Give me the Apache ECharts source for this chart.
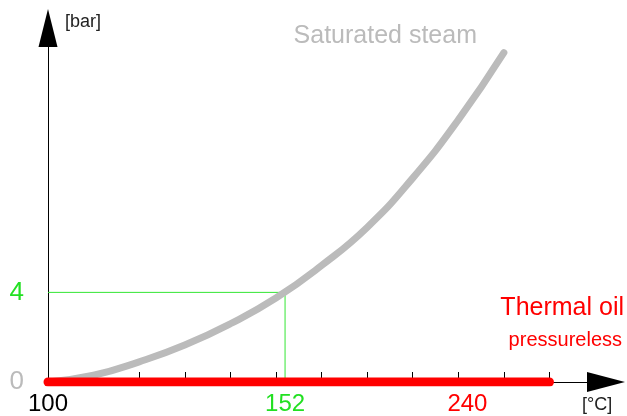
<!DOCTYPE html>
<html>
<head>
<meta charset="utf-8">
<script src="https://cdn.jsdelivr.net/npm/echarts@6/dist/echarts.min.js"></script>
<style>
    html, body { margin: 0; padding: 0; background: #fff; }
    #chart { width: 627px; height: 416px; }
</style>
</head>
<body>
<div id="chart"></div>
<script>
(() => {
    'use strict'

    // saturated steam, gauge pressure [bar] over temperature [°C]
    const steamTemp = [100, 110, 120, 130, 140, 150, 160, 170, 180, 190, 200]
    const steamBar = [0, 0.3, 0.9, 1.65, 2.6, 3.75, 5.2, 6.9, 9.1, 11.7, 14.7]

    // thermal oil stays pressureless
    const oilTemp = [100, 210]
    const oilBar = [0, 0]

    // read-off guide at 4 bar
    const guideTemp = [100, 152, 152]
    const guideBar = [4, 4, 0]

    const xTicks = [100, 110, 120, 130, 140, 150, 160, 170, 180, 190, 200, 210]
    const xLabels = [
        {value: 100, text: '100', color: '#000'},
        {value: 152, text: '152', color: '#22e022'},
        {value: 192, text: '240', color: '#ff0000'}
    ]
    const yLabels = [
        {value: 0, text: '0', color: '#bbbbbb'},
        {value: 4, text: '4', color: '#22e022'}
    ]

    const font = '"Liberation Sans", Arial, sans-serif'
    const pick = (list, v) => list.find(l => l.value === v) || {text: '', color: '#000'}
    const pairs = (xs, ys) => xs.map((x, i) => [x, ys[i]])

    const chart = echarts.init(document.getElementById('chart'), null, {renderer: 'canvas'})

    chart.setOption({
        animation: false,
        backgroundColor: '#fff',
        grid: {left: 48, right: 21, top: 28, bottom: 33},
        xAxis: {
            type: 'value',
            min: 100,
            max: 222.4,
            name: '[°C]',
            nameLocation: 'end',
            nameGap: -24,
            nameTextStyle: {fontFamily: font, fontSize: 18, color: '#222', align: 'left', verticalAlign: 'top', padding: [14, 0, 0, 0]},
            axisLine: {
                lineStyle: {color: '#000', width: 1},
                symbol: ['none', 'triangle'],
                symbolSize: [20, 38]
            },
            axisTick: {
                show: true,
                inside: true,
                length: 10,
                customValues: xTicks,
                lineStyle: {color: '#000', width: 1}
            },
            axisLabel: {
                customValues: xLabels.map(l => l.value),
                margin: 10,
                fontFamily: font,
                fontSize: 24,
                formatter: v => pick(xLabels, v).text,
                color: v => pick(xLabels, Number(v)).color
            },
            splitLine: {show: false}
        },
        yAxis: {
            type: 'value',
            min: 0,
            max: 15.8,
            name: '[bar]',
            nameLocation: 'end',
            nameGap: -3,
            nameTextStyle: {fontFamily: font, fontSize: 18, color: '#222', align: 'left', padding: [0, 0, 0, 17]},
            axisLine: {
                show: true,
                lineStyle: {color: '#000', width: 1},
                symbol: ['none', 'triangle'],
                symbolSize: [19, 38]
            },
            axisTick: {show: false},
            axisLabel: {
                customValues: yLabels.map(l => l.value),
                margin: 24,
                fontFamily: font,
                fontSize: 26,
                formatter: v => pick(yLabels, v).text,
                color: v => pick(yLabels, Number(v)).color
            },
            splitLine: {show: false}
        },
        graphic: [
            {
                type: 'text',
                right: 150,
                top: 24,
                style: {text: 'Saturated steam', font: '25px ' + font, fill: '#bbbbbb'}
            },
            {
                type: 'text',
                right: 3,
                top: 296,
                style: {text: 'Thermal oil', font: '25px ' + font, fill: '#ff0000'}
            },
            {
                type: 'text',
                right: 5,
                top: 330,
                style: {text: 'pressureless', font: '20px ' + font, fill: '#ff0000'}
            }
        ],
        series: [
            {
                name: 'guide',
                type: 'line',
                data: pairs(guideTemp, guideBar),
                showSymbol: false,
                lineStyle: {color: '#33e633', width: 1},
                z: 1
            },
            {
                name: 'Saturated steam',
                type: 'line',
                data: pairs(steamTemp, steamBar),
                smooth: 0.5,
                showSymbol: false,
                lineStyle: {color: '#bbbbbb', width: 7, cap: 'round'},
                z: 2
            },
            {
                name: 'Thermal oil',
                type: 'line',
                data: pairs(oilTemp, oilBar),
                showSymbol: false,
                lineStyle: {color: '#ff0000', width: 9, cap: 'round'},
                z: 3
            }
        ]
    })
})()
</script>
</body>
</html>
